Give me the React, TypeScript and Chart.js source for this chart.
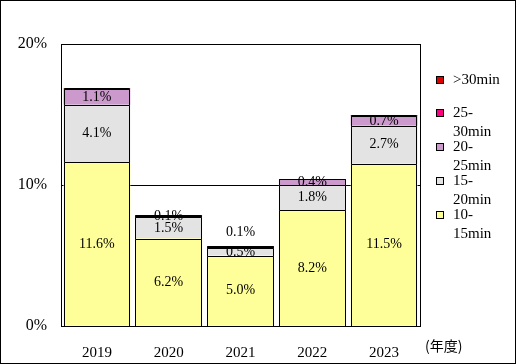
import React, { useEffect, useRef } from "react";
import { Chart, registerables } from "chart.js";

Chart.register(...registerables);

const years = ["2019", "2020", "2021", "2022", "2023"];
const s10to15 = [11.6, 6.2, 5.0, 8.2, 11.5];
const s15to20 = [4.1, 1.5, 0.5, 1.8, 2.7];
const s20to25 = [1.1, 0.1, 0.1, 0.4, 0.7];
const s25to30 = [0, 0, 0, 0, 0];
const sOver30 = [0.05, 0.05, 0.05, 0, 0.05];
const seriesNames = ["10-\n15min", "15-\n20min", "20-\n25min", "25-\n30min", ">30min"];
const seriesColors = ["#FFFF99", "#E3E3E3", "#CC99CC", "#FF0080", "#DD0000"];
const yTicks = [0, 10, 20];
const unitLabel = "(年度)";

const SERIF = "'Liberation Serif', 'DejaVu Serif', serif";

export default function App() {
  const ref = useRef<HTMLCanvasElement | null>(null);

  useEffect(() => {
    const canvas = ref.current;
    if (!canvas) return;
    const data = [s10to15, s15to20, s20to25, s25to30, sOver30];

    const framePlugin = {
      id: "frame",
      beforeDraw(chart: any) {
        const ctx = chart.ctx;
        ctx.save();
        ctx.fillStyle = "#fff";
        ctx.fillRect(0, 0, chart.width, chart.height);
        ctx.restore();
      },
      afterDatasetsDraw(chart: any) {
        const ctx = chart.ctx;
        const area = chart.chartArea;
        ctx.save();
        ctx.strokeStyle = "#000";
        ctx.lineWidth = 1;

        // bar outlines, crisp
        for (let d = 0; d < data.length; d++) {
          const meta = chart.getDatasetMeta(d);
          meta.data.forEach((el: any) => {
            const l = Math.round(el.x - el.width / 2) + 0.5;
            const r = Math.round(el.x + el.width / 2) - 0.5;
            const t = Math.round(el.y) + 0.5;
            const b = Math.round(el.base) + 0.5;
            ctx.beginPath();
            ctx.moveTo(l, b);
            ctx.lineTo(l, t);
            ctx.lineTo(r, t);
            ctx.lineTo(r, b);
            ctx.stroke();
          });
        }

        // right border of plot
        ctx.beginPath();
        ctx.moveTo(Math.round(area.right) + 0.5, area.top);
        ctx.lineTo(Math.round(area.right) + 0.5, area.bottom);
        ctx.stroke();

        // data labels
        ctx.fillStyle = "#000";
        ctx.font = "14px " + SERIF;
        ctx.textAlign = "center";
        ctx.textBaseline = "middle";
        for (let d = 0; d < 3; d++) {
          const meta = chart.getDatasetMeta(d);
          meta.data.forEach((el: any, i: number) => {
            const v = data[d][i];
            let y = (el.y + el.base) / 2;
            if (d === 2 && i === 2) {
              y = el.y - 15;
            }
            ctx.fillText(v.toFixed(1) + "%", el.x, y);
          });
        }

        // legend
        ctx.font = "15px " + SERIF;
        ctx.textAlign = "left";
        ctx.textBaseline = "middle";
        const order = [4, 3, 2, 1, 0];
        const boxX = 436;
        const textX = 453;
        let y = 80;
        order.forEach((idx, k) => {
          const lines = seriesNames[idx].split("\n");
          ctx.fillStyle = seriesColors[idx];
          ctx.fillRect(boxX, y - 4, 8, 8);
          ctx.strokeStyle = "#000";
          ctx.strokeRect(boxX + 0.5, y - 3.5, 7, 7);
          ctx.fillStyle = "#000";
          lines.forEach((ln, j) => ctx.fillText(ln, textX, y + j * 19));
          y += k === 0 ? 33 : 34;
        });

        // unit label
        ctx.font = "14px 'Noto Sans CJK JP', sans-serif";
        ctx.textAlign = "left";
        ctx.fillText(unitLabel, 425, 346);

        // outer frame
        ctx.strokeStyle = "#000";
        ctx.strokeRect(0.5, 0.5, chart.width - 1, chart.height - 1);
        ctx.restore();
      },
    };

    const chart = new Chart(canvas, {
      type: "bar",
      data: {
        labels: years,
        datasets: data.map((vals, i) => ({
          label: seriesNames[i],
          data: vals,
          backgroundColor: seriesColors[i],
          borderWidth: 0,
          categoryPercentage: 1,
          barPercentage: 0.93,
        })),
      },
      options: {
        animation: false,
        responsive: false,
        devicePixelRatio: 1,
        layout: { padding: { top: 44, right: 96, left: 0, bottom: 0 } },
        plugins: {
          legend: { display: false },
          tooltip: { enabled: false },
        },
        scales: {
          x: {
            stacked: true,
            grid: { display: false },
            border: { display: true, color: "#000" },
            ticks: { color: "#000", font: { family: SERIF, size: 15 }, padding: 10 },
            afterFit: (s: any) => {
              s.height = 38;
            },
          },
          y: {
            stacked: true,
            min: 0,
            max: 20,
            afterBuildTicks: (s: any) => {
              s.ticks = yTicks.map((v) => ({ value: v }));
            },
            grid: { color: "#000", lineWidth: 1, drawTicks: false },
            border: { display: true, color: "#000" },
            ticks: {
              color: "#000",
              font: { family: SERIF, size: 16 },
              padding: 14,
              callback: (v: any) => v + "%",
            },
            afterFit: (s: any) => {
              s.width = 61;
            },
          },
        },
      },
      plugins: [framePlugin],
    });
    return () => chart.destroy();
  }, []);

  return (
    <div style={{ position: "absolute", left: 0, top: 0, width: 516, height: 364 }}>
      <canvas ref={ref} width={516} height={364} style={{ display: "block" }} />
    </div>
  );
}
